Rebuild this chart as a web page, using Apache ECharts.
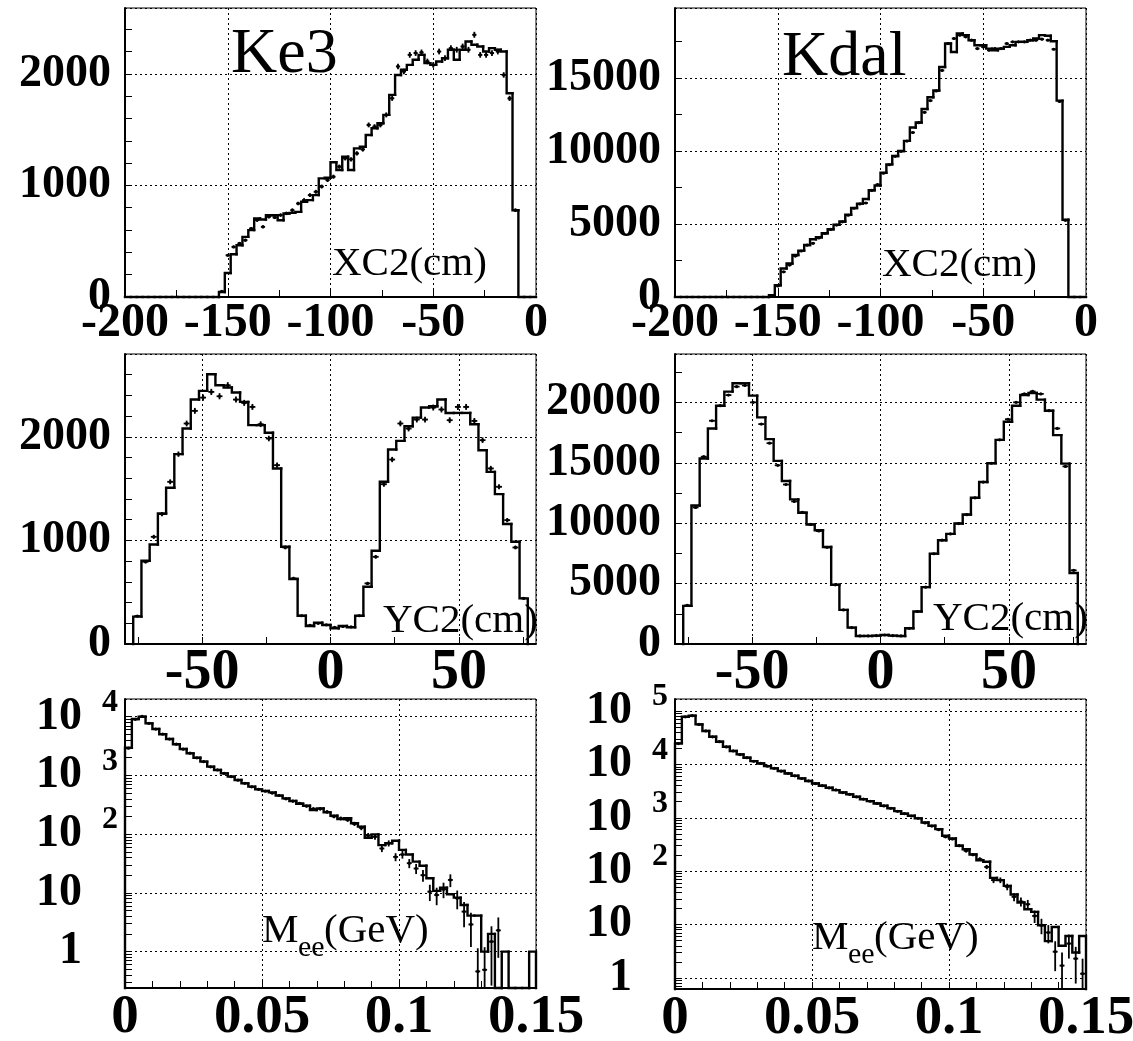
<!DOCTYPE html>
<html>
<head>
<meta charset="utf-8">
<title>Ke3 / Kdal</title>
<script src="https://cdn.jsdelivr.net/npm/echarts@6.0.0/dist/echarts.min.js"></script>
<style>
html,body{margin:0;padding:0;background:#fff;}
#chart{width:1133px;height:1041px;}
</style>
</head>
<body>
<div id="chart"></div>
<script>
// ---------- binning ----------
const xc2Min = -200, xc2Max = 0, xc2Bins = 70;
const yc2Min = -76.8, yc2Max = 76.8, yc2Bins = 48;
const meeMin = 0, meeMax = 0.15, meeBins = 60;

// ---------- XC2 (cm) ----------
const ke3XcMc = [0,0,0,0,0,0,0,0,0,0,0,0,0,0,0,0,
  45,215,383,464,539,599,703,695,733,733,688,748,754,763,853,868,913,1063,1069,1207,
  1138,1257,1138,1332,1347,1452,1512,1557,1632,1811,1990,2036,2080,2126,2170,2096,2080,2111,2140,2216,
  2126,2216,2290,2260,2245,2200,2230,2216,2200,1826,778,0,0,0];
const ke3XcData = [0,0,0,0,0,0,0,0,0,0,0,0,0,0,0,0,
  50,374,449,480,509,614,689,629,719,713,734,749,778,838,868,913,943,990,1048,1078,
  1168,1243,1234,1287,1323,1542,1527,1542,1632,1781,2066,2021,2170,2186,2192,2111,2080,2200,2140,2230,
  2216,2245,2216,2350,2170,2170,2186,2200,1990,1780,778,0,0,0];
const kdalXcMc = [0,0,0,0,0,0,0,0,0,0,0,0,0,0,0,0,
  115,805,1955,2300,2875,3174,3565,3956,4094,4370,4646,4945,5175,5635,6095,6394,6716,7314,7636,8510,
  9085,9660,10005,10695,11615,11960,12880,13685,14145,15755,17365,16790,18055,17940,17595,17250,17250,17020,16905,17020,
  17135,17250,17480,17480,17595,17710,17940,17894,17526,13455,5290,0,0,0];
const kdalXcData = [0,0,0,0,0,0,0,0,0,0,0,0,0,0,0,0,
  100,760,1725,2185,2806,3150,3550,3680,4050,4350,4630,4930,5150,5600,6080,6380,6440,7300,7705,8480,
  9060,9640,9980,10680,11270,11940,12650,13455,14120,15525,17365,17710,17940,17825,17595,17020,17135,16905,17020,17020,
  17365,17480,17480,17480,17595,17595,17664,17595,16974,13400,5250,0,0,0];

// ---------- YC2 (cm) ----------
const ke3YcMc = [264,804,961,1260,1508,1833,2080,2360,2444,2605,2498,2476,2428,2338,2113,2113,2039,1695,939,627,
  273,174,206,183,151,174,161,273,553,900,1566,1878,1961,2103,2186,2283,2296,2360,2231,2231,
  2231,2122,1871,1662,1447,1158,987,441];
const ke3YcData = [270,794,1035,1254,1566,1833,2129,2251,2379,2434,2392,2498,2360,2328,2289,2122,1984,1727,932,633,
  273,180,200,185,160,170,165,273,585,842,1543,1781,2129,2080,2167,2167,2283,2264,2161,2289,
  2289,2154,1968,1695,1518,1196,932,441];
const kdalYcMc = [3158,11468,15346,17839,19722,20886,21578,21578,20553,18753,16952,15152,13490,11966,10858,9889,9418,8033,4903,2825,
  1357,665,665,693,748,693,665,1302,2687,4709,7479,8587,9113,9972,10720,12105,13407,14958,16897,18393,
  19722,20609,20775,20221,19307,17285,14930,5872];
const kdalYcData = [3200,11300,15500,18476,19722,20600,21300,21400,20000,18200,16620,14790,13200,11800,10900,9900,9350,8000,4900,2820,
  1360,665,665,690,745,690,665,1300,2690,4700,7470,8590,9110,9970,10700,12100,13400,14960,16900,18600,
  20000,20700,20900,20700,19307,17839,14700,6100];

// ---------- Mee (GeV) ----------
const ke3MeeMc = [2960,9130,10000,7690,6170,5030,4170,3390,2820,2377,2000,1715,1409,1237,1085,952,836,733,643,579,
  543,515,452,407,367,330,305,258,275,235,206,181,186,153,134,87,99,65,70,77,
  54,45,34,29,17.7,10.8,12.3,9.5,8.3,6.2,4.1,4.1,1,2,0,1,0,0,0,1];
const ke3MeeData = [2900,9000,10100,7700,6150,5050,4150,3400,2800,2390,1990,1720,1400,1240,1080,955,830,735,640,580,
  540,500,455,400,365,335,300,270,270,240,200,185,175,150,128,95,90,57,70,41,
  45,32,26,20,10.5,9.2,11.5,16.6,8.1,4.8,2.9,0.46,0.49,1.48,2.3,0,0,0,0,0];
const kdalMeeMc = [24770,78300,81400,56200,42200,33000,26600,21400,17800,15400,13300,11500,10400,9300,8410,7500,6770,6130,5470,4880,
  4390,3980,3650,3300,2985,2740,2470,2230,2050,1850,1680,1500,1330,1190,1090,975,815,710,612,460,
  410,300,258,205,160,150,75,68,53,36.5,25.9,19.4,17.3,9.7,4.9,9.0,4.0,6.1,3.0,6.1];
const kdalMeeData = [24600,78000,81800,56000,42300,32900,26700,21300,17900,15300,13350,11450,10450,9250,8450,7480,6800,6100,5450,4900,
  4380,4000,3630,3320,2970,2750,2460,2240,2040,1860,1670,1510,1320,1200,1080,980,800,700,600,440,
  400,300,240,205,168,120,68,68,51,33,27,24,14.5,9.7,7.1,3.1,1.7,4.4,2.3,1.2];

// ---------- tick labels ----------
const xc2TickLabels = [-200, -150, -100, -50, 0];
const yc2TickLabels = [-50, 0, 50];
const meeTickLabels = [0, 0.05, 0.1, 0.15];
const ke3XcYTickLabels = [0, 1000, 2000];
const kdalXcYTickLabels = [0, 5000, 10000, 15000];
const ke3YcYTickLabels = [0, 1000, 2000];
const kdalYcYTickLabels = [0, 5000, 10000, 15000, 20000];
const ke3MeeYTickLabels = [1, 10, 100, 1000, 10000];
const kdalMeeYTickLabels = [1, 10, 100, 1000, 10000, 100000];

// ---------- tick marks ----------
const xc2Ticks = [-175, -150, -125, -100, -75, -50, -25];
const yc2Ticks = [-75, -50, -25, 0, 25, 50, 75];
const meeTicks = [0.01, 0.02, 0.03, 0.04, 0.05, 0.06, 0.07, 0.08, 0.09, 0.1, 0.11, 0.12, 0.13, 0.14];
const ke3XcYTicks = [200, 400, 600, 800, 1000, 1200, 1400, 1600, 1800, 2000, 2200, 2400];
const kdalXcYTicks = [2500, 5000, 7500, 10000, 12500, 15000, 17500];
const ke3YcYTicks = [200, 400, 600, 800, 1000, 1200, 1400, 1600, 1800, 2000, 2200, 2400, 2600];
const kdalYcYTicks = [2500, 5000, 7500, 10000, 12500, 15000, 17500, 20000, 22500];
function logTicks(lo, hi) {
  const out = [];
  for (let e = -1; e <= 6; e++) for (let m = 1; m <= 9; m++) {
    const v = +(m * Math.pow(10, e)).toPrecision(6);
    if (v > lo && v < hi) out.push(v);
  }
  return out;
}

// ---------- helpers ----------
const FONT = '"Liberation Serif", "Times New Roman", serif';

function binItems(vals, lo, hi, n) {
  const w = (hi - lo) / n;
  return vals.map((v, k) => [lo + k * w, lo + (k + 1) * w, v, k ? vals[k - 1] : 0, k === n - 1 ? 1 : 0]);
}

function renderHist(isLog) {
  return function (params, api) {
    const cs = params.coordSys, bottom = cs.y + cs.height;
    const xl = api.value(0), xr = api.value(1), v = api.value(2), pv = api.value(3), last = api.value(4);
    const ref = isLog ? 1 : 0;
    const py = val => {
      if (isLog && !(val > 0)) return bottom;
      return Math.min(api.coord([xl, val])[1], bottom);
    };
    const x0 = api.coord([xl, ref])[0], x1 = api.coord([xr, ref])[0];
    const y0 = py(pv), y1 = py(v);
    const pts = [[x0, y0], [x0, y1], [x1, y1]];
    if (last) pts.push([x1, bottom]);
    return {
      type: 'polyline', silent: true,
      shape: { points: pts },
      style: { stroke: '#000', lineWidth: 2.4, fill: null, lineJoin: 'miter', lineCap: 'square' }
    };
  };
}

function renderCross(isLog, errScale) {
  return function (params, api) {
    const cs = params.coordSys, bottom = cs.y + cs.height, top = cs.y;
    const xl = api.value(0), xr = api.value(1), v = api.value(2);
    if (!(v > 0)) return null;
    const ref = isLog ? 1 : 0;
    const xc = (xl + xr) / 2;
    const xa = api.coord([xl, ref])[0], xb = api.coord([xr, ref])[0];
    const cx = api.coord([xc, ref])[0];
    const hw = (xb - xa) * 0.36;
    const clampY = y => Math.max(top, Math.min(bottom, y));
    const cy = clampY(api.coord([xc, v])[1]);
    const e = errScale * Math.sqrt(v);
    const lo = v - e, hi = v + e;
    const yLo = (isLog && !(lo > 0)) ? bottom : clampY(api.coord([xc, lo])[1]);
    const yHi = clampY(api.coord([xc, hi])[1]);
    return {
      type: 'group', silent: true,
      children: [
        { type: 'line', shape: { x1: cx - hw, y1: cy, x2: cx + hw, y2: cy }, style: { stroke: '#000', lineWidth: 1.8 } },
        { type: 'line', shape: { x1: cx, y1: yLo, x2: cx, y2: yHi }, style: { stroke: '#000', lineWidth: 1.8 } },
        { type: 'circle', shape: { cx: cx, cy: cy, r: 1.6 }, style: { fill: '#000' } }
      ]
    };
  };
}

// ---------- panels ----------
const panels = [
  { left: 125, top: 8, width: 411, height: 289,
    xMin: -200, xMax: 0, xInterval: 50, xLabels: xc2TickLabels, xTicks: xc2Ticks, xFont: 48, xMargin: 3,
    yType: 'value', yMin: 0, yMax: 2590, yInterval: 1000, yLabels: ke3XcYTickLabels, yTicks: ke3XcYTicks,
    lo: xc2Min, hi: xc2Max, n: xc2Bins, mc: ke3XcMc, data: ke3XcData, err: 0.55 },
  { left: 675, top: 8, width: 411, height: 289,
    xMin: -200, xMax: 0, xInterval: 50, xLabels: xc2TickLabels, xTicks: xc2Ticks, xFont: 48, xMargin: 3,
    yType: 'value', yMin: 0, yMax: 19800, yInterval: 5000, yLabels: kdalXcYTickLabels, yTicks: kdalXcYTicks,
    lo: xc2Min, hi: xc2Max, n: xc2Bins, mc: kdalXcMc, data: kdalXcData, err: 0.5 },
  { left: 125, top: 354, width: 411, height: 290,
    xMin: -80, xMax: 80, xSplit: 3, xLabels: yc2TickLabels, xTicks: yc2Ticks, xFont: 56, xMargin: 2,
    yType: 'value', yMin: 0, yMax: 2800, yInterval: 1000, yLabels: ke3YcYTickLabels, yTicks: ke3YcYTicks,
    lo: yc2Min, hi: yc2Max, n: yc2Bins, mc: ke3YcMc, data: ke3YcData, err: 0.6 },
  { left: 675, top: 354, width: 411, height: 290,
    xMin: -80, xMax: 80, xSplit: 3, xLabels: yc2TickLabels, xTicks: yc2Ticks, xFont: 56, xMargin: 2,
    yType: 'value', yMin: 0, yMax: 24000, yInterval: 5000, yLabels: kdalYcYTickLabels, yTicks: kdalYcYTicks,
    lo: yc2Min, hi: yc2Max, n: yc2Bins, mc: kdalYcMc, data: kdalYcData, err: 0.5 },
  { left: 125, top: 699, width: 411, height: 289,
    xMin: 0, xMax: 0.15, xInterval: 0.05, xLabels: meeTickLabels, xTicks: meeTicks, xFont: 55, xMargin: 2,
    yType: 'log', yMin: 0.24, yMax: 20000, yLabels: ke3MeeYTickLabels, yTicks: logTicks(0.24, 20000),
    lo: meeMin, hi: meeMax, n: meeBins, mc: ke3MeeMc, data: ke3MeeData, err: 1 },
  { left: 675, top: 699, width: 411, height: 290,
    xMin: 0, xMax: 0.15, xInterval: 0.05, xLabels: meeTickLabels, xTicks: meeTicks, xFont: 55, xMargin: 2,
    yType: 'log', yMin: 0.62, yMax: 168000, yLabels: kdalMeeYTickLabels, yTicks: logTicks(0.62, 168000),
    lo: meeMin, hi: meeMax, n: meeBins, mc: kdalMeeMc, data: kdalMeeData, err: 1 }
];

const grids = [], xAxes = [], yAxes = [], series = [];
const splitStyle = { show: true, lineStyle: { color: '#000', width: 1, type: [2, 3] } };
const boldLabel = { color: '#000', fontFamily: FONT, fontWeight: 'bold', showMinLabel: true, showMaxLabel: true, hideOverlap: false };

panels.forEach((p, i) => {
  const isLog = p.yType === 'log';
  grids.push({ left: p.left, top: p.top, width: p.width, height: p.height, show: true,
    borderColor: '#000', borderWidth: 1, backgroundColor: 'rgba(0,0,0,0)', containLabel: false, outerBoundsMode: 'none' });

  const xIdx = xAxes.length;
  const mx = { gridIndex: i, type: 'value', min: p.xMin, max: p.xMax, position: 'bottom',
    axisLine: { show: true, onZero: false, lineStyle: { color: '#000', width: 2 } },
    axisTick: { show: false }, splitLine: splitStyle,
    axisLabel: Object.assign({ show: true, customValues: p.xLabels, formatter: v => String(v),
      fontSize: p.xFont, margin: p.xMargin }, boldLabel) };
  if (p.xInterval) mx.interval = p.xInterval; else mx.splitNumber = p.xSplit;
  xAxes.push(mx);
  xAxes.push({ gridIndex: i, type: 'value', min: p.xMin, max: p.xMax, position: 'bottom',
    axisLine: { show: false, onZero: false }, axisLabel: { show: false }, splitLine: { show: false },
    axisTick: { show: true, inside: true, length: 7, customValues: p.xTicks, lineStyle: { color: '#000', width: 1 } } });

  const yIdx = yAxes.length;
  const my = { gridIndex: i, type: p.yType, min: p.yMin, max: p.yMax, position: 'left',
    axisLine: { show: true, onZero: false, lineStyle: { color: '#000', width: 2 } },
    axisTick: { show: false }, splitLine: splitStyle,
    axisLabel: Object.assign({ show: true, customValues: p.yLabels, fontSize: 46,
      margin: isLog ? 7 : 14, formatter: v => String(v) }, boldLabel) };
  if (isLog) {
    my.logBase = 10; my.splitNumber = 5;
    // mantissa "10" / "1" of each decade label, leaving room on the right for the exponent
    my.axisLabel.formatter = v => (Math.round(Math.log10(v)) === 0 ? '1' : '10');
    my.axisLabel.padding = [0, 36, 0, 0];
  } else {
    my.interval = p.yInterval;
  }
  yAxes.push(my);
  yAxes.push({ gridIndex: i, type: p.yType, min: p.yMin, max: p.yMax, position: 'left',
    axisLine: { show: false, onZero: false }, axisLabel: { show: false }, splitLine: { show: false },
    axisTick: { show: true, inside: true, length: 7, customValues: p.yTicks, lineStyle: { color: '#000', width: 1 } } });
  if (isLog) {
    // exponent (superscript) of the decade labels, raised above the tick
    yAxes.push({ gridIndex: i, type: 'log', logBase: 10, min: p.yMin, max: p.yMax, position: 'left',
      axisLine: { show: false, onZero: false }, axisTick: { show: false }, splitLine: { show: false },
      axisLabel: Object.assign({ show: true, customValues: p.yLabels, fontSize: 32, lineHeight: 28,
        margin: 7, verticalAlign: 'bottom',
        formatter: v => { const e = Math.round(Math.log10(v)); return e >= 2 ? String(e) : ''; } }, boldLabel) });
  }

  series.push({ type: 'custom', xAxisIndex: xIdx, yAxisIndex: yIdx, renderItem: renderHist(isLog),
    data: binItems(p.mc, p.lo, p.hi, p.n), encode: { x: [0, 1], y: 2 }, silent: true, z: 3 });
  series.push({ type: 'custom', xAxisIndex: xIdx, yAxisIndex: yIdx, renderItem: renderCross(isLog, p.err),
    data: binItems(p.data, p.lo, p.hi, p.n), encode: { x: [0, 1], y: 2 }, silent: true, z: 4 });
});

function txt(text, x, y, size) {
  return { type: 'text', silent: true, z: 10,
    style: { text: text, x: x, y: y, fill: '#000', fontSize: size, fontFamily: FONT, fontWeight: 'normal',
      textAlign: 'left', align: 'left', textVerticalAlign: 'middle', verticalAlign: 'middle' } };
}

const graphics = [
  txt('Ke3', 231, 55, 64),
  txt('Kdal', 782, 58, 64),
  txt('XC2(cm)', 332, 264, 41),
  txt('XC2(cm)', 882, 265, 41),
  txt('YC2(cm)', 383, 621, 41),
  txt('YC2(cm)', 933, 619, 41),
  txt('M', 262, 931, 41), txt('ee', 298, 948, 30), txt('(GeV)', 324, 931, 41),
  txt('M', 812, 938, 41), txt('ee', 848, 955, 30), txt('(GeV)', 874, 938, 41)
];

const chart = echarts.init(document.getElementById('chart'), null, { renderer: 'canvas' });
chart.setOption({
  animation: false,
  backgroundColor: '#fff',
  grid: grids, xAxis: xAxes, yAxis: yAxes, series: series,
  graphic: graphics
});
</script>
</body>
</html>
